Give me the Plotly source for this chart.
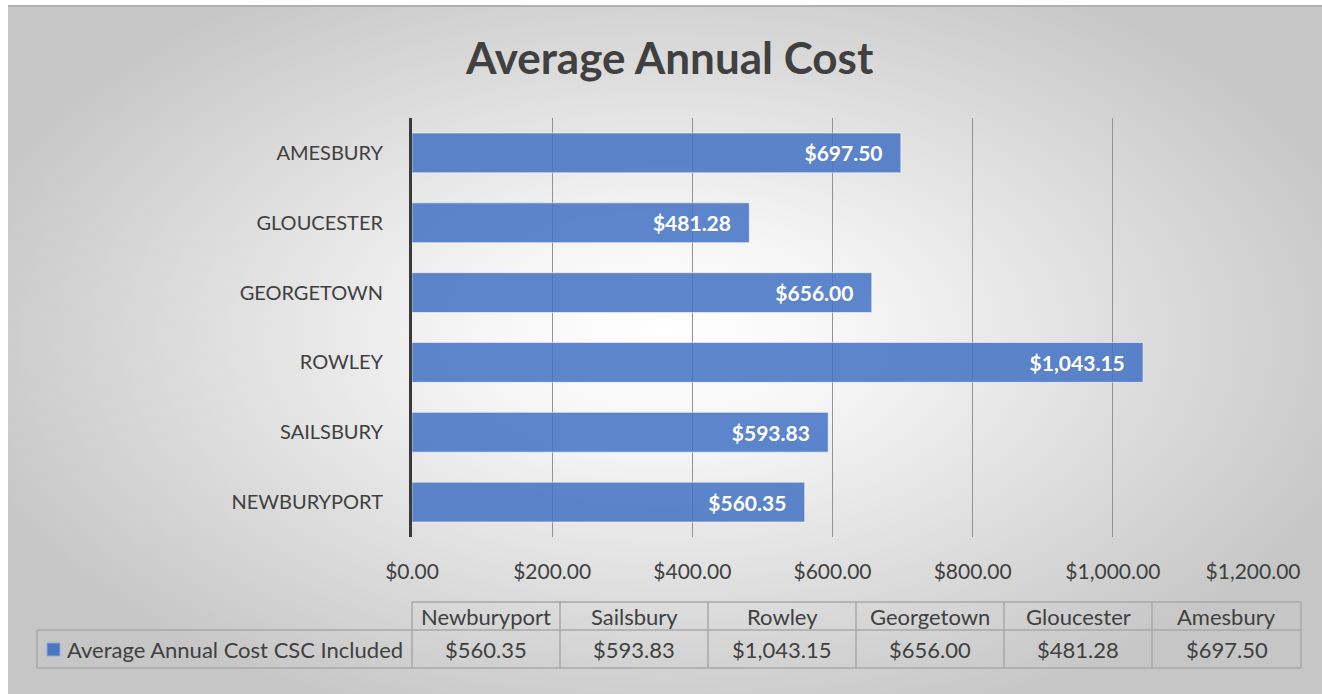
import plotly.graph_objects as go

# ---- data ----
categories = ["Newburyport", "Sailsbury", "Rowley", "Georgetown", "Gloucester", "Amesbury"]
values = [560.35, 593.83, 1043.15, 656.00, 481.28, 697.50]
series_name = "Average Annual Cost CSC Included"
title_text = "Average Annual Cost"
x_ticks = [0, 200, 400, 600, 800, 1000, 1200]

W, H = 1322, 694
FONT = "Lato"
TXT = "#404040"
BAR = "rgba(68,114,196,0.86)"


def px(x):
    return x / W


def py(y):
    return 1 - y / H


fig = go.Figure()

# background radial gradient (on hidden full-size axes)
fig.add_trace(go.Scatter(
    x=[-0.06, 1.06, 1.06, -0.06, -0.06], y=[-0.08, -0.08, 1.12, 1.12, -0.08],
    mode="lines", fill="toself", line=dict(width=0),
    fillgradient=dict(type="radial",
                      colorscale=[[0, "#ffffff"], [0.25, "#f6f6f6"], [1, "#c6c6c6"]]),
    hoverinfo="skip", showlegend=False, xaxis="x", yaxis="y"))

# bars
fig.add_trace(go.Bar(
    x=values, y=[c.upper() for c in categories], orientation="h",
    marker=dict(color=BAR, line=dict(color="rgba(255,255,255,0.55)", width=1)),
    texttemplate="%{x:$,.2f}\u00a0\u00a0\u00a0", textposition="inside",
    insidetextanchor="end",
    textfont=dict(family=FONT, size=21, color="white", weight="bold"),
    showlegend=False, xaxis="x2", yaxis="y2", width=0.57))

fig.update_layout(
    width=W, height=H, margin=dict(l=0, r=0, t=0, b=0, autoexpand=False),
    paper_bgcolor="white", plot_bgcolor="rgba(0,0,0,0)",
    font=dict(family=FONT, color=TXT),
    xaxis=dict(domain=[px(8), 1], range=[0, 1], visible=False, fixedrange=True, automargin=False),
    yaxis=dict(domain=[0, py(6)], range=[0, 1], visible=False, fixedrange=True, automargin=False),
    xaxis2=dict(domain=[px(412), px(1253)], range=[0, 1200], anchor="y2",
                tickvals=x_ticks, tickformat="$,.2f", showgrid=True,
                gridcolor="#939393", gridwidth=1.3, zeroline=False, showline=False,
                ticks="", ticklabelstandoff=20, automargin=False, fixedrange=True,
                tickfont=dict(family=FONT, size=21, color=TXT)),
    yaxis2=dict(domain=[py(537), py(118)], anchor="x2", type="category",
                showline=True, linecolor="#3a3a3a", linewidth=3, showgrid=False,
                ticks="", ticklabelstandoff=22, automargin=False, fixedrange=True,
                tickfont=dict(family=FONT, size=20, color=TXT)),
    bargap=0.43,
)

shapes = []
ann = []

# top border of chart area
shapes.append(dict(type="line", xref="paper", yref="paper", x0=px(8), x1=1, y0=py(6), y1=py(6),
                   line=dict(color="#b0b0b0", width=2)))

# title
ann.append(dict(text="<b>" + title_text + "</b>", x=px(670), y=py(57), xref="paper", yref="paper",
                showarrow=False, xanchor="center", yanchor="middle",
                font=dict(family=FONT, size=44, color=TXT)))

# data table
col_edges = [412, 560, 708, 856, 1004, 1152, 1301]
top, mid, bot = 602, 630, 668
left = 37
lc = dict(color="#a8a8a8", width=1.5)
shapes.append(dict(type="line", xref="paper", yref="paper", x0=px(412), x1=px(1301), y0=py(top), y1=py(top), line=lc))
shapes.append(dict(type="line", xref="paper", yref="paper", x0=px(left), x1=px(1301), y0=py(mid), y1=py(mid), line=lc))
shapes.append(dict(type="line", xref="paper", yref="paper", x0=px(left), x1=px(1301), y0=py(bot), y1=py(bot), line=lc))
shapes.append(dict(type="line", xref="paper", yref="paper", x0=px(left), x1=px(left), y0=py(mid), y1=py(bot), line=lc))
for e in col_edges:
    shapes.append(dict(type="line", xref="paper", yref="paper", x0=px(e), x1=px(e), y0=py(top), y1=py(bot), line=lc))

for i, (c, v) in enumerate(zip(categories, values)):
    cx = (col_edges[i] + col_edges[i + 1]) / 2
    ann.append(dict(text=c, x=px(cx), y=py((top + mid) / 2), xref="paper", yref="paper",
                    showarrow=False, xanchor="center", yanchor="middle",
                    font=dict(family=FONT, size=22, color=TXT)))
    ann.append(dict(text=f"${v:,.2f}", x=px(cx), y=py((mid + bot) / 2), xref="paper", yref="paper",
                    showarrow=False, xanchor="center", yanchor="middle",
                    font=dict(family=FONT, size=22, color=TXT)))

# legend key in table
shapes.append(dict(type="rect", xref="paper", yref="paper", x0=px(47), x1=px(60), y0=py(656), y1=py(643),
                   fillcolor="#4a76c4", line=dict(color="#8fa9d8", width=1)))
ann.append(dict(text=series_name, x=px(65), y=py((mid + bot) / 2), xref="paper", yref="paper",
                showarrow=False, xanchor="left", yanchor="middle",
                font=dict(family=FONT, size=22, color=TXT)))

fig.update_layout(shapes=shapes, annotations=ann)
fig.write_html("out.html", config={"displayModeBar": False},
               post_script="document.body.style.margin='0';")
